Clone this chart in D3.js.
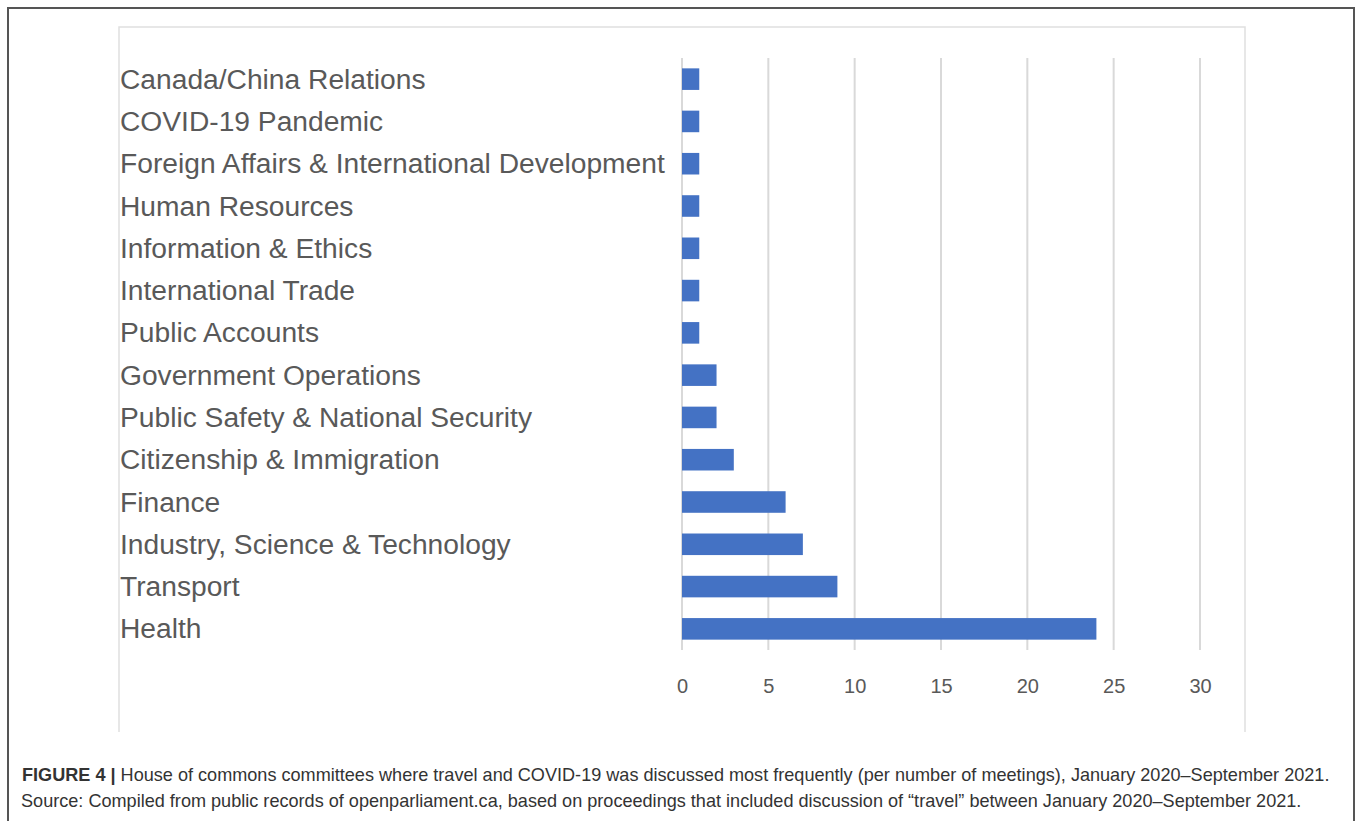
<!DOCTYPE html>
<html><head><meta charset="utf-8">
<script src="https://cdn.jsdelivr.net/npm/d3@7"></script>
<style>html,body{margin:0;padding:0;background:#fff;}svg{display:block;}</style>
</head><body>
<svg id="chart" width="1358" height="821"></svg>
<script>
const categories = ["Canada/China Relations","COVID-19 Pandemic","Foreign Affairs & International Development","Human Resources","Information & Ethics","International Trade","Public Accounts","Government Operations","Public Safety & National Security","Citizenship & Immigration","Finance","Industry, Science & Technology","Transport","Health"];
const values = [1,1,1,1,1,1,1,2,2,3,6,7,9,24];
const tickValues = [0,5,10,15,20,25,30];
const captionBold = "FIGURE 4 |";
const captionLine1 = " House of commons committees where travel and COVID-19 was discussed most frequently (per number of meetings), January 2020\u2013September 2021.";
const captionLine2 = "Source: Compiled from public records of openparliament.ca, based on proceedings that included discussion of \u201ctravel\u201d between January 2020\u2013September 2021.";

const svg = d3.select("#chart");
const FONT = "Liberation Sans, Arial, sans-serif";
// outer frame
svg.append("path").attr("d","M8,830 L8,8 L1354,8 L1354,830").attr("fill","none").attr("stroke","#555").attr("stroke-width",2);
// inner chart box
svg.append("path").attr("d","M119,732 L119,27 L1245,27 L1245,732").attr("fill","none").attr("stroke","#e0e0e0").attr("stroke-width",1.5);

const x = d3.scaleLinear().domain([0,30]).range([682,1200]);
const y = d3.scaleBand().domain(categories).range([58,650]).paddingInner(0.49).paddingOuter(0.245);

// gridlines
svg.append("g").selectAll("line").data(tickValues).join("line")
  .attr("x1",d=>x(d)).attr("x2",d=>x(d)).attr("y1",58).attr("y2",650)
  .attr("stroke","#d9d9d9").attr("stroke-width",2);

// bars
svg.append("g").selectAll("rect").data(values).join("rect")
  .attr("x",x(0)).attr("y",(d,i)=>y(categories[i]))
  .attr("width",d=>x(d)-x(0)).attr("height",y.bandwidth())
  .attr("fill","#4472C4");

// category labels
const labels = svg.append("g").selectAll("text").data(categories).join("text")
  .attr("x",120).attr("y",d=>y(d)+y.bandwidth()/2).attr("dy","0.34em")
  .attr("font-family",FONT).attr("font-size",26)
  .attr("fill","#595959").text(d=>d);
// fit the longest label width to the reference (~545px)
let maxW = 0; labels.each(function(){ maxW = Math.max(maxW, this.getComputedTextLength()); });
labels.attr("font-size", 26*545/maxW);

// x axis
const xAxis = d3.axisBottom(x).tickValues(tickValues).tickSize(0).tickPadding(0);
const gx = svg.append("g").attr("transform","translate(0,686)").call(xAxis);
gx.select(".domain").remove();
gx.selectAll("text").attr("dy","0.36em").attr("font-family",FONT).attr("font-size",20).attr("fill","#595959");

// caption
const cap1 = svg.append("text").attr("x",22).attr("y",781).attr("font-family",FONT).attr("font-size",18.1).attr("fill","#333");
cap1.append("tspan").attr("font-weight","bold").text(captionBold);
cap1.append("tspan").text(captionLine1);
svg.append("text").attr("x",21).attr("y",807).attr("font-family",FONT).attr("font-size",18.1).attr("fill","#333").text(captionLine2);
</script>
</body></html>
